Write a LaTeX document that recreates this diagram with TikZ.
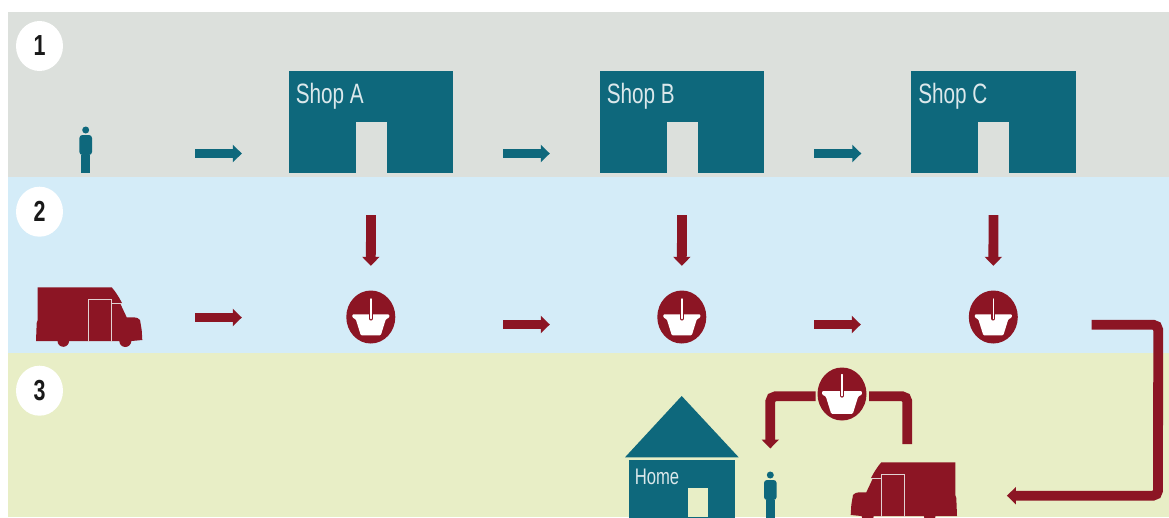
\documentclass[tikz,border=0pt]{standalone}
\usepackage{fontspec}
\usepackage{tikz}
\usetikzlibrary{arrows.meta,shapes.geometric}
\newfontfamily\signfont[FakeStretch=0.74]{Liberation Sans}
\definecolor{shopteal}{HTML}{0E687C}
\definecolor{vanred}{HTML}{8C1524}
\definecolor{bandgrey}{HTML}{DCE0DC}
\definecolor{bandblue}{HTML}{D4ECF8}
\definecolor{bandgreen}{HTML}{E8EEC6}
\tikzset{
	pics/shopper/.style={code={
		\fill[shopteal] (0,-19.5) circle (3.5);
		\fill[shopteal, rounded corners=3pt] (-6.3,5.5) -- (-6.3,-14.5) -- (6.3,-14.5) -- (6.3,5.5) -- cycle;
		\fill[shopteal] (-4.3,5) rectangle (4.3,23.5);
	}},
	pics/basket/.style={code={
		\fill[white, rounded corners=1pt] (-18.5,-2.7) -- (18.5,-2.7) -- (18.5,0.5) -- (15,2.3) -- (10,18.3) -- (-10,18.3) -- (-15,2.3) -- (-18.5,0.5) -- cycle;
		\draw[vanred, line width=4pt, line cap=round] (0,-3) -- (0,1.5);
		\draw[white, line width=1.5pt, line cap=round] (0,-18) -- (0,1.5);
	}},
	pics/van/.style={code={
		\begin{scope}[shift={(-89.25,-317)}]
			\fill[vanred] (37.7,287.3) -- (111.7,287.3) .. controls (115,291) and (119,297) .. (122,303) -- (120,303) -- (126.7,317.3) -- (133.3,317.3) .. controls (137,317.5) and (139,318.5) .. (140,320) -- (141.7,330) -- (142.3,340) -- (131.7,341) -- (36,341) -- (36.7,323) -- (37.7,320) -- cycle;
			\fill[vanred] (125.3,341) circle (6);
			\fill[vanred] (63.3,341) circle (5.8);
			\draw[bandgrey!70!vanred!50!white, line width=1pt] (88.3,341.5) -- (88.3,299.3) -- (111.7,299.3) -- (111.7,341.5);
			\draw[bandgrey!70!vanred!50!white, line width=1pt] (112.3,303) -- (122,303);
		\end{scope}
	}}
}

\begin{document}
\begin{tikzpicture}[x=1pt, y=-1pt, >={Triangle[length=9pt, width=17pt]},
	flowteal/.style={->, shopteal, line width=9.8pt},
	flowred/.style={->, vanred, line width=9.8pt},
	flowbend/.style={flowred, rounded corners=5pt},
	numberdisc/.style={ellipse, fill=white, inner sep=0pt, minimum width=47pt, minimum height=50pt, font=\signfont\bfseries\fontsize{29}{29}\selectfont, text=black!90},
	basketdisc/.style={ellipse, fill=vanred, inner sep=0pt, minimum width=49pt, minimum height=53pt},
	shopbox/.style={fill=shopteal, inner sep=0pt, minimum width=164.5pt, minimum height=102pt},
	doorbox/.style={fill=bandgrey, inner sep=0pt, minimum width=31pt, minimum height=51pt, anchor=south},
	signtext/.style={text=white!85!shopteal, inner sep=0pt, anchor=west, font=\signfont\fontsize{28}{28}\selectfont},
	figurebox/.style={inner sep=0pt, minimum width=13pt, minimum height=47pt},
	vanbox/.style={inner sep=0pt, minimum width=105.5pt, minimum height=60pt}]
	\clip (0,0) rectangle (1169,517);
	\fill[white] (0,0) rectangle (1169,517);
	\fill[bandgrey] (8,12) rectangle (1169,177.3);
	\fill[bandblue] (8,177.3) rectangle (1169,353.3);
	\fill[bandgreen] (8,353.3) rectangle (1169,517);
	\node[numberdisc] (numOne) at (39.5,46) {1};
	\node[numberdisc] (numTwo) at (39.5,211.7) {2};
	\node[numberdisc] (numThree) at (39.5,390.7) {3};
	\foreach \name/\x in {A/371,B/682,C/993.5} {
		\node[shopbox] (shop\name) at (\x,122) {};
		\node[doorbox] (door\name) at (shop\name.south) {};
		\node[signtext] (sign\name) at ([xshift=7pt,yshift=-25.5pt]shop\name.north west) {Shop \name};
		\node[basketdisc] (basket\name) at (\x-0.2,317) {};
		\pic at (basket\name) {basket};
		\draw[flowred] ([yshift=-42pt]shop\name.south) -- ([yshift=24.5pt]basket\name.north);
	}
	\node[figurebox] (shopper) at (85.7,149.5) {};
	\pic at (shopper) {shopper};
	\node[vanbox] (vanStart) at (89.25,317) {};
	\pic at (vanStart) {van};
	\draw[flowteal] ([xshift=102.8pt,yshift=-4pt]shopper.east) -- ([xshift=-46.7pt,yshift=-31.5pt]shopA.west);
	\draw[flowteal] ([xshift=49.75pt,yshift=-31.5pt]shopA.east) -- ([xshift=-49.75pt,yshift=-31.5pt]shopB.west);
	\draw[flowteal] ([xshift=49.75pt,yshift=-31.5pt]shopB.east) -- ([xshift=-49.75pt,yshift=-31.5pt]shopC.west);
	\draw[flowred] ([xshift=53pt,yshift=-0.5pt]vanStart.east) -- ([xshift=-104.3pt,yshift=-0.5pt]basketA.west);
	\draw[flowred] ([xshift=107.7pt,yshift=-7.5pt]basketA.east) -- ([xshift=-107.3pt,yshift=-7.5pt]basketB.west);
	\draw[flowred] ([xshift=107.7pt,yshift=-7.5pt]basketB.east) -- ([xshift=-107.8pt,yshift=-7.5pt]basketC.west);
	\fill[shopteal] (625,457.3) -- (681.7,396) -- (738.7,457.3) -- cycle;
	\node[fill=shopteal, inner sep=0pt, minimum width=105.4pt, minimum height=58pt, anchor=north] (home) at (682,460) {};
	\node[doorbox, fill=bandgreen, minimum width=20pt, minimum height=29pt] (homeDoor) at (698,517) {};
	\node[signtext, font=\signfont\fontsize{22.5}{22.5}\selectfont] (homeSign) at ([xshift=5.5pt,yshift=-17pt]home.north west) {Home};
	\node[figurebox] (shopperHome) at (770.3,494.5) {};
	\pic at (shopperHome) {shopper};
	\node[vanbox] (vanHome) at (903.75,492) {};
	\pic[xscale=-1] at (vanHome) {van};
	\node[basketdisc] (basketHome) at (842,394) {};
	\pic[scale=1.08] at (basketHome) {basket};
	\draw[flowbend, -] ([xshift=3.55pt,yshift=17.7pt]vanHome.north) |- ([xshift=2.3pt,yshift=-2.3pt]basketHome.east);
	\draw[flowbend] ([xshift=-1.6pt,yshift=-2.3pt]basketHome.west) -| ([yshift=22.3pt]shopperHome.north);
	\draw[flowbend] ([xshift=73.5pt,yshift=-7.7pt]basketC.east) -- ++(66.7,0) -- (1158,495.7) -- ([xshift=50.2pt,yshift=-3.7pt]vanHome.east);
\end{tikzpicture}
\end{document}
